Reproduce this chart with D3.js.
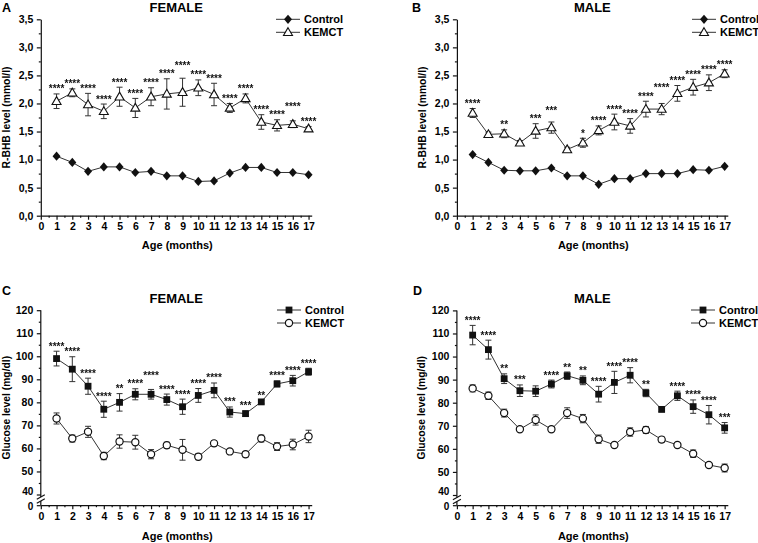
<!DOCTYPE html>
<html><head><meta charset="utf-8">
<script src="https://cdn.jsdelivr.net/npm/d3@7"></script>
<style>
body{margin:0;background:#fff}
text{font-family:"Liberation Sans",Arial,sans-serif}
</style>
</head><body>
<svg id="chart" width="758" height="543">
  <defs><filter id="gray"><feColorMatrix type="saturate" values="0"/></filter></defs>
</svg>
<script>
// ---------- data ----------
const months = [1,2,3,4,5,6,7,8,9,10,11,12,13,14,15,16,17];
const xTickValues = [0,1,2,3,4,5,6,7,8,9,10,11,12,13,14,15,16,17];
const bhbTicks = [0,0.5,1,1.5,2,2.5,3,3.5];
const bhbMinor = [0.25,0.75,1.25,1.75,2.25,2.75,3.25];
const glucoseTicks = [0,40,50,60,70,80,90,100,110,120];
const glucoseMinor = [45,55,65,75,85,95,105,115];
const seriesNames = ["Control","KEMCT"];

const femaleBhbControl = [1.06,0.95,0.79,0.87,0.87,0.77,0.79,0.71,0.71,0.61,0.62,0.76,0.86,0.86,0.77,0.77,0.73];
const femaleBhbKemct = [2.04,2.19,1.98,1.86,2.12,1.92,2.12,2.17,2.20,2.28,2.16,1.92,2.09,1.67,1.61,1.63,1.55];
const femaleBhbKemctErr = [0.13,0.07,0.20,0.13,0.17,0.17,0.16,0.27,0.25,0.14,0.20,0.08,0.08,0.13,0.10,0.06,0.04];
const femaleBhbSig = ["****","****","****","****","****","****","****","****","****","****","****","****","****","****","****","****","****"];

const maleBhbControl = [1.09,0.95,0.81,0.80,0.80,0.85,0.71,0.71,0.56,0.66,0.66,0.75,0.75,0.75,0.82,0.81,0.88];
const maleBhbKemct = [1.83,1.45,1.46,1.30,1.51,1.57,1.18,1.30,1.52,1.67,1.60,1.90,1.90,2.18,2.29,2.37,2.53];
const maleBhbKemctErr = [0.08,0.04,0.07,0.04,0.13,0.10,0.04,0.08,0.08,0.14,0.13,0.14,0.10,0.14,0.14,0.14,0.07];
const maleBhbSig = ["****","","**","","***","***","","*","****","****","****","****","****","****","****","****","****"];

const femaleGluControl = [99.0,94.4,87.0,77.0,80.0,83.5,83.5,81.2,78.1,83.0,85.2,75.8,75.1,80.2,88.0,89.4,93.3];
const femaleGluControlErr = [3.2,5.4,3.5,3.5,3.8,2.4,2.1,2.4,3.3,3.0,3.2,2.2,1.2,0.8,1.3,2.3,1.5];
const femaleGluKemct = [73.0,64.3,67.2,56.7,63.0,62.7,57.5,61.4,59.4,56.4,62.2,58.7,57.5,64.3,60.8,61.7,65.2];
const femaleGluKemctErr = [2.4,1.5,2.4,1.6,2.9,3.0,2.0,1.3,4.5,1.3,1.2,0.6,1.2,1.5,1.7,2.3,2.7];
const femaleGluSig = ["****","****","****","****","**","****","****","****","****","****","****","***","***","**","****","****","****"];

const maleGluControl = [109.3,103.0,90.4,85.2,85.0,88.1,91.7,89.7,83.7,88.8,91.9,84.2,77.1,83.0,78.3,74.8,69.1];
const maleGluControlErr = [4.2,4.1,2.1,2.5,2.3,1.7,1.6,1.9,3.4,4.8,3.3,1.6,1.0,2.0,2.9,4.0,2.3];
const maleGluKemct = [86.2,83.0,75.5,68.5,72.5,68.5,75.5,73.1,64.2,61.7,67.3,68.2,64.0,61.7,57.9,53.0,51.7];
const maleGluKemctErr = [1.5,1.6,1.7,0.8,2.2,1.0,2.3,1.8,1.8,0.8,1.8,1.5,1.2,0.8,1.6,0.8,1.7];
const maleGluSig = ["****","****","**","***","","****","**","**","****","****","****","**","","****","****","****","***"];

// ---------- drawing ----------
const svg = d3.select("#chart");
const INK = "#111";
const commaFmt = v => d3.format(".1f")(v).replace(".", ",");

const markers = {
  diamond: g => g.append("path").attr("d","M0,-4.6L4,0L0,4.6L-4,0Z").attr("fill",INK),
  triangle: g => g.append("path").attr("d","M0,-4.6L4.5,3.2L-4.5,3.2Z").attr("fill","#fff").attr("stroke",INK).attr("stroke-width",1.1),
  square: g => g.append("rect").attr("x",-3.4).attr("y",-3.4).attr("width",6.8).attr("height",6.8).attr("fill",INK),
  circle: g => g.append("circle").attr("r",3.6).attr("fill","#fff").attr("stroke",INK).attr("stroke-width",1.2)
};

function drawPanel(cfg){
  const g = svg.append("g");
  const x = d3.scaleLinear().domain([0,17.2]).range([cfg.x0, cfg.x0 + 17.2*15.75]);
  const y = cfg.glucose
    ? d3.scaleLinear().domain([0,40,120]).range([cfg.yBottom, cfg.y40, cfg.yTop])
    : d3.scaleLinear().domain([0,3.5]).range([cfg.yBottom, cfg.yTop]);

  // panel letter & title
  g.append("text").attr("x",cfg.letterX).attr("y",cfg.letterY).text(cfg.letter)
    .attr("font-size",12.5).attr("font-weight","bold");
  g.append("text").attr("x",(x.range()[0]+x.range()[1])/2).attr("y",cfg.titleY)
    .attr("text-anchor","middle").attr("font-size",13).attr("font-weight","bold").text(cfg.title);

  // y axis
  const yAxisG = g.append("g").attr("transform",`translate(${cfg.x0},0)`)
    .call(d3.axisLeft(y).tickValues(cfg.glucose ? glucoseTicks : bhbTicks)
      .tickFormat(cfg.glucose ? d3.format("d") : commaFmt)
      .tickSize(4).tickSizeOuter(0).tickPadding(3.5));
  g.append("g").attr("transform",`translate(${cfg.x0},0)`)
    .call(d3.axisLeft(y).tickValues(cfg.glucose ? glucoseMinor : bhbMinor).tickFormat("").tickSize(2).tickSizeOuter(0))
    .call(a => a.select(".domain").remove());
  // x axis
  g.append("g").attr("transform",`translate(0,${cfg.yBottom})`)
    .call(d3.axisBottom(x).tickValues(xTickValues).tickFormat(d3.format("d")).tickSize(4).tickSizeOuter(0).tickPadding(3));
  g.append("g").attr("transform",`translate(0,${cfg.yBottom})`)
    .call(d3.axisBottom(x).tickValues(xTickValues.slice(0,-1).map(v=>v+0.5)).tickFormat("").tickSize(2).tickSizeOuter(0))
    .call(a => a.select(".domain").remove());

  g.selectAll(".tick text").attr("font-weight","bold").attr("fill","#000").attr("font-size",10.5)
    .style("font-family",'"Liberation Sans",Arial,sans-serif');

  if (cfg.glucose){
    yAxisG.select(".domain").remove();
    // nudge the tightly packed "40" / "0" labels apart a little
    yAxisG.selectAll(".tick text")
      .attr("dy", d => d === 40 ? "-0.05em" : d === 0 ? "0.42em" : "0.32em")
      .attr("font-size", d => (d === 0 || d === 40) ? 10 : 10.5);
    const bTop = y(40) + 2.5, bBot = y(40) + 6.5;
    g.append("line").attr("x1",cfg.x0).attr("x2",cfg.x0).attr("y1",y(120)).attr("y2",bTop);
    g.append("line").attr("x1",cfg.x0).attr("x2",cfg.x0).attr("y1",bBot).attr("y2",y(0));
    [bTop, bBot].forEach(yy => g.append("line")
      .attr("x1",cfg.x0-4).attr("y1",yy+2.2).attr("x2",cfg.x0+4).attr("y2",yy-2.2));
  }
  g.selectAll(".domain, .tick line, line").attr("stroke",INK).attr("stroke-width",1.2);

  // axis titles
  g.append("text").attr("x",(x.range()[0]+x.range()[1])/2 + 1).attr("y",cfg.xTitleY)
    .attr("text-anchor","middle").attr("font-size",11).attr("font-weight","bold").text("Age (months)");
  const yMid = (y.range()[0] + y.range()[y.range().length-1])/2;
  g.append("text").attr("transform",`translate(${cfg.yTitleX},${yMid}) rotate(-90)`)
    .attr("text-anchor","middle").attr("font-size",10.3).attr("font-weight","bold").text(cfg.yTitle);

  // series
  const starG = g.append("g").attr("filter","url(#gray)");
  cfg.series.forEach(s => {
    const line = d3.line().x((d,i)=>x(months[i])).y(d=>y(d));
    g.append("path").datum(s.values).attr("d",line).attr("fill","none").attr("stroke","#333").attr("stroke-width",1);
    if (s.errors){
      const eg = g.append("g").attr("stroke","#333").attr("stroke-width",1);
      s.values.forEach((v,i)=>{
        const cx = x(months[i]), e = s.errors[i];
        eg.append("line").attr("x1",cx).attr("x2",cx).attr("y1",y(v-e)).attr("y2",y(v+e));
        [v-e, v+e].forEach(w => eg.append("line").attr("x1",cx-3).attr("x2",cx+3).attr("y1",y(w)).attr("y2",y(w)));
      });
    }
    s.values.forEach((v,i)=>{
      markers[s.marker](g.append("g").attr("transform",`translate(${x(months[i])},${y(v)})`));
    });
    if (s.sig){
      let prevY = null;
      s.sig.forEach((lab,i)=>{
        if (!lab) { prevY = null; return; }
        const top = s.values[i] + (s.errors ? s.errors[i] : 0);
        let ty = y(top) - 1.5;
        if (prevY !== null && Math.abs(ty - prevY) < 3) ty = prevY - 8.5;   // stagger labels at the same height
        prevY = ty;
        starG.append("text").attr("x",x(months[i])).attr("y",ty)
          .attr("text-anchor","middle").attr("font-size",10).attr("font-weight","bold")
          .attr("fill","#111").text(lab);
      });
    }
  });

  // legend
  cfg.series.forEach((s,k)=>{
    const ly = cfg.legendY + k*13;
    g.append("line").attr("x1",cfg.legendX).attr("x2",cfg.legendX+24).attr("y1",ly).attr("y2",ly)
      .attr("stroke","#333").attr("stroke-width",1);
    markers[s.marker](g.append("g").attr("transform",`translate(${cfg.legendX+12},${ly})`));
    g.append("text").attr("x",cfg.legendX+28).attr("y",ly+4).attr("font-size",11).attr("font-weight","bold")
      .text(seriesNames[k]);
  });
}

drawPanel({letter:"A",letterX:2,letterY:11.5,title:"FEMALE",titleY:11.5,x0:40.8,yTop:19.3,yBottom:215.7,
  xTitleY:249,yTitleX:10,yTitle:"R-BHB level (mmol/l)",legendX:276,legendY:19.3,
  series:[{values:femaleBhbControl,marker:"diamond"},
          {values:femaleBhbKemct,errors:femaleBhbKemctErr,marker:"triangle",sig:femaleBhbSig}]});
drawPanel({letter:"B",letterX:412,letterY:11.5,title:"MALE",titleY:11.5,x0:456.9,yTop:19.3,yBottom:215.7,
  xTitleY:249,yTitleX:426,yTitle:"R-BHB level (mmol/l)",legendX:692,legendY:19.3,
  series:[{values:maleBhbControl,marker:"diamond"},
          {values:maleBhbKemct,errors:maleBhbKemctErr,marker:"triangle",sig:maleBhbSig}]});
drawPanel({letter:"C",letterX:2,letterY:295,title:"FEMALE",titleY:302.5,x0:40.8,glucose:true,yTop:310.2,y40:494.5,yBottom:505.2,
  xTitleY:539.5,yTitleX:10,yTitle:"Glucose level (mg/dl)",legendX:277,legendY:310,
  series:[{values:femaleGluControl,errors:femaleGluControlErr,marker:"square",sig:femaleGluSig},
          {values:femaleGluKemct,errors:femaleGluKemctErr,marker:"circle"}]});
drawPanel({letter:"D",letterX:413,letterY:295,title:"MALE",titleY:302.5,x0:456.9,glucose:true,yTop:310.4,y40:495,yBottom:505.2,
  xTitleY:539.5,yTitleX:425,yTitle:"Glucose level (mg/dl)",legendX:691,legendY:310,
  series:[{values:maleGluControl,errors:maleGluControlErr,marker:"square",sig:maleGluSig},
          {values:maleGluKemct,errors:maleGluKemctErr,marker:"circle"}]});
</script>
</body></html>
